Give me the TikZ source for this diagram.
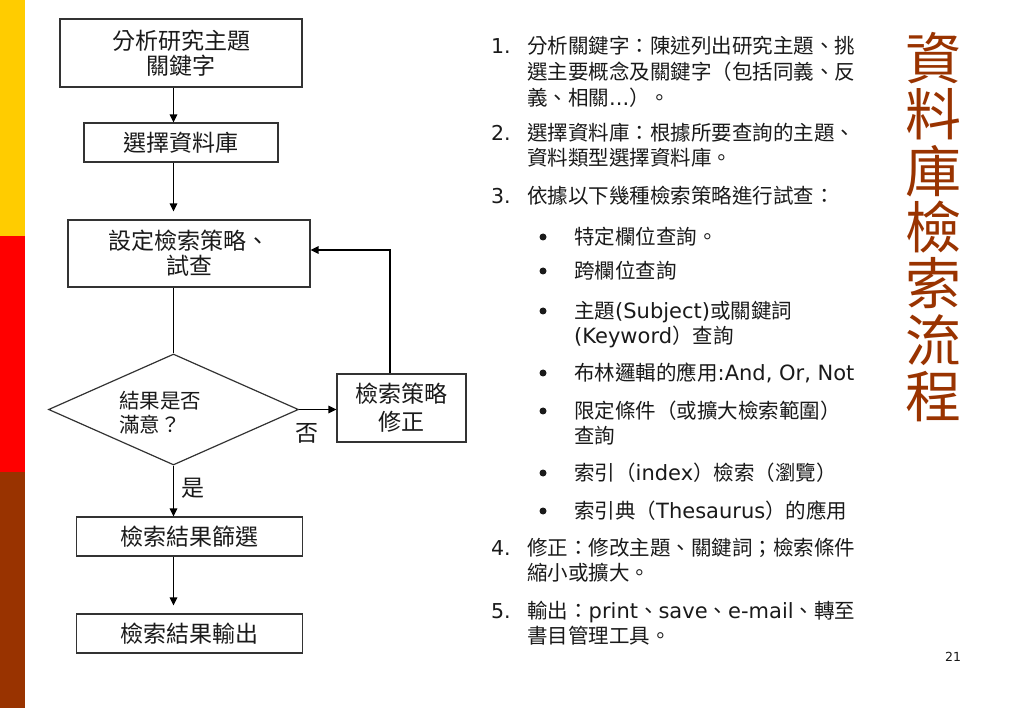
\documentclass[tikz,border=0pt]{standalone}
\usepackage{fontspec}
\setmainfont{Noto Sans CJK TC}
\newfontfamily\lat{DejaVu Sans}
\usetikzlibrary{arrows.meta,shapes.geometric}
\definecolor{stripY}{HTML}{FFCC00}
\definecolor{stripR}{HTML}{FF0000}
\definecolor{stripB}{HTML}{993300}
\definecolor{titlec}{HTML}{993300}
\definecolor{txt}{HTML}{1A1A1A}
\definecolor{edge}{HTML}{333333}
\begin{document}
\begin{tikzpicture}[x=1pt,y=-1pt,
  box/.style={draw=edge,line width=1.2pt,inner sep=0,align=center,text=txt,font=\fontsize{23}{25}\selectfont},
  conn/.style={line width=1.5pt,-{Triangle[length=8pt,width=7.5pt]}},
  plain/.style={line width=1.5pt},
  ln/.style={anchor=west,inner sep=0,text=txt,font=\fontsize{20.5}{25}\selectfont,text height=18pt,text depth=2.5pt},
  num/.style={ln,font=\lat\fontsize{20.5}{25}\selectfont},
  bul/.style={circle,fill=txt,inner sep=0,minimum size=7pt},
  lbl/.style={inner sep=0,text=txt,font=\fontsize{23}{25}\selectfont}
]
\useasboundingbox (0,0) rectangle (1023,708);
\fill[white] (0,0) rectangle (1023,708);
% left strip
\fill[stripY] (0,0) rectangle (25,236);
\fill[stripR] (0,236) rectangle (25,472);
\fill[stripB] (0,472) rectangle (25,708);

% helper coordinates
\coordinate (col) at (173.5,0);
\coordinate (lx) at (390,0);
\coordinate (ly) at (0,250);

% flowchart
\node[box,minimum width=242pt,minimum height=68pt] (box1) at (181,53) {分析研究主題\\關鍵字};
\node[box,minimum width=194pt,minimum height=39pt] (box2) at (181,142.5) {選擇資料庫};
\node[box,minimum width=242pt,minimum height=67pt] (box3) at (189,253.5) {設定檢索策略、\\試查};
\node[draw=edge,line width=1.2pt,diamond,minimum width=250pt,minimum height=111pt,inner sep=0] (dia) at (173.5,409.5) {};
\node[anchor=west,inner sep=0,align=left,text=txt,font=\fontsize{20.5}{24}\selectfont] (diatext) at (119,413) {結果是否\\滿意？};
\node[box,minimum width=129pt,minimum height=68pt,font=\fontsize{23}{28}\selectfont] (box4) at (401.5,408) {檢索策略\\修正};
\node[box,minimum width=226pt,minimum height=39pt] (box5) at (189.5,536.5) {檢索結果篩選};
\node[box,minimum width=226pt,minimum height=39pt] (box6) at (189.5,633.5) {檢索結果輸出};
\node[lbl] (no) at (307,433) {否};
\node[lbl] (yes) at (193,488) {是};

\draw[conn] (box1.south -| col) -- (box2.north -| col);
\draw[conn,shorten >=8pt] (box2.south -| col) -- (box3.north -| col);
\draw[plain] (box3.south -| col) -- (dia.north);
\draw[conn] (dia.east) -- (box4.west |- dia.east);
\draw[line width=1.3pt,-{Triangle[length=8pt,width=7.5pt]}] (box4.north -| lx) |- (box3.east |- ly);
\draw[conn] (dia.south) -- (box5.north -| col);
\draw[conn,shorten >=8pt] (box5.south -| col) -- (box6.north -| col);

% right list
\node[num] (n1) at (491,46) {1.};
\node[ln] (t1a) at (527,46) {分析關鍵字：陳述列出研究主題、挑};
\node[ln] (t1b) at (527,72) {選主要概念及關鍵字（包括同義、反};
\node[ln] (t1c) at (527,98) {義、相關{\lat\fontsize{21}{25}\selectfont ...}）。};
\node[num] (n2) at (491,133) {2.};
\node[ln] (t2a) at (527,133) {選擇資料庫：根據所要查詢的主題、};
\node[ln] (t2b) at (527,158) {資料類型選擇資料庫。};
\node[num] (n3) at (491,196) {3.};
\node[ln] (t3a) at (527,196) {依據以下幾種檢索策略進行試查：};

\node[bul] (b1) at (543,237) {};
\node[ln] (s1) at (574,237) {特定欄位查詢。};
\node[bul] (b2) at (543,271) {};
\node[ln] (s2) at (574,271) {跨欄位查詢};
\node[bul] (b3) at (543,311) {};
\node[ln] (s3a) at (574,311) {主題{\lat\fontsize{21}{25}\selectfont (Subject)}或關鍵詞};
\node[ln] (s3b) at (574,336) {{\lat\fontsize{21}{25}\selectfont (Keyword}）查詢};
\node[bul] (b4) at (543,373) {};
\node[ln] (s4) at (574,373) {布林邏輯的應用{\lat\fontsize{21}{25}\selectfont :And, Or, Not}};
\node[bul] (b5) at (543,411) {};
\node[ln] (s5a) at (574,411) {限定條件（或擴大檢索範圍）};
\node[ln] (s5b) at (574,436) {查詢};
\node[bul] (b6) at (543,473) {};
\node[ln] (s6) at (574,473) {索引（{\lat\fontsize{21}{25}\selectfont index}）檢索（瀏覽）};
\node[bul] (b7) at (543,511) {};
\node[ln] (s7) at (574,511) {索引典（{\lat\fontsize{21}{25}\selectfont Thesaurus}）的應用};

\node[num] (n4) at (491,548) {4.};
\node[ln] (t4a) at (527,548) {修正：修改主題、關鍵詞；檢索條件};
\node[ln] (t4b) at (527,573) {縮小或擴大。};
\node[num] (n5) at (491,611) {5.};
\node[ln] (t5a) at (527,611) {輸出：{\lat\fontsize{21}{25}\selectfont print}、{\lat\fontsize{21}{25}\selectfont save}、{\lat\fontsize{21}{25}\selectfont e-mail}、轉至};
\node[ln] (t5b) at (527,636) {書目管理工具。};

% title
\node[inner sep=0,align=center,text=titlec,font=\fontsize{56}{56.3}\selectfont] (title) at (933,227) {資\\料\\庫\\檢\\索\\流\\程};

% page number
\node[inner sep=0,text=txt,font=\lat\fontsize{12.5}{14}\selectfont] (page) at (953,657) {21};
\end{tikzpicture}
\end{document}
